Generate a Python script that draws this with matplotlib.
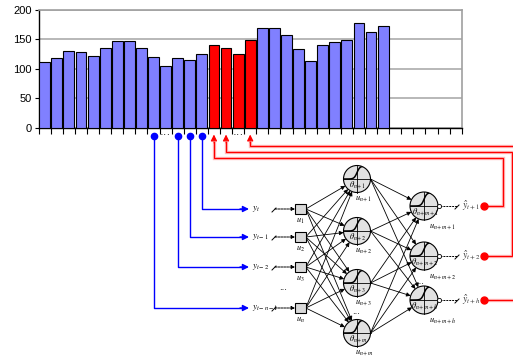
import numpy as np
import matplotlib
matplotlib.use("Agg")
import matplotlib.pyplot as plt
from matplotlib.patches import Circle, Rectangle, FancyArrowPatch

plt.rcParams['font.family'] = ['Liberation Sans', 'DejaVu Sans']
plt.rcParams['mathtext.fontset'] = 'stix'

# Serie de tiempo (barras)
valores = [112, 118, 131, 129, 121, 135, 148, 148, 136, 120, 104, 118, 115, 126,
           141, 135, 126, 149,
           170, 170, 158, 133, 113, 140, 145, 149, 178, 163, 172]
n_huecos = 35
idx_entrada = [13, 12, 11, 9]          # y_t, y_t-1, y_t-2, y_t-n-1
idx_objetivo = [14, 15, 17]            # y^_t+1, y^_t+2, y^_t+h
idx_puntos_azul = 10
idx_puntos_rojo = 16
yticks = [0, 50, 100, 150, 200]

etiq_y = [r'$y_t$', r'$y_{t-1}$', r'$y_{t-2}$', r'$y_{t-n-1}$']
etiq_u = [r'$u_1$', r'$u_2$', r'$u_3$', r'$u_n$']
theta_oc = [r'$\theta_{n+1}$', r'$\theta_{n+2}$', r'$\theta_{n+3}$', r'$\theta_{n+m}$']
etiq_oc = [r'$u_{n+1}$', r'$u_{n+2}$', r'$u_{n+3}$', r'$u_{n+m}$']
theta_sal = [r'$\theta_{n+m+1}$', r'$\theta_{n+m+2}$', r'$\theta_{n+m+h}$']
etiq_sal = [r'$u_{n+m+1}$', r'$u_{n+m+2}$', r'$u_{n+m+h}$']
etiq_yhat = [r'$\hat{y}_{t+1}$', r'$\hat{y}_{t+2}$', r'$\hat{y}_{t+h}$']

# Layout (pixeles)
W, H = 513, 359
AZUL_BARRA = '#8080ff'
ROJO = '#ff0000'
AZUL = '#0000ff'
fila_in = [209, 237, 267, 308]
x_cuadro = 300.5
x_oc, fila_oc, r_oc = 357, [179, 231, 283, 333], 13.5
x_sal, fila_sal, r_sal = 424, [206, 256, 300], 14
y_rojo = [157.5, 151.5, 145.5]
x_giro = [502.5, 512, 525]

fig = plt.figure(figsize=(W / 100, H / 100), dpi=100)
ax = fig.add_axes([38.7 / W, 1 - 127.7 / H, 423 / W, 117.7 / H])

x = np.arange(len(valores)) + 0.5
colores = [ROJO if i in (14, 15, 16, 17) else AZUL_BARRA for i in range(len(valores))]
ax.bar(x, valores, width=0.9, color=colores, edgecolor='black', linewidth=0.8, zorder=3)
ax.set_xlim(0, n_huecos)
ax.set_ylim(0, 200)
ax.set_yticks(yticks)
ax.set_xticks(np.arange(n_huecos + 1))
ax.set_xticklabels([])
ax.tick_params(axis='x', direction='out', length=4, width=0.8)
ax.tick_params(axis='y', direction='out', length=3, width=0.8, labelsize=8, pad=2)
ax.yaxis.grid(True, color='#b8b8b8', linewidth=1.4, zorder=0)
ax.set_axisbelow(True)
for s in ['top', 'right']:
    ax.spines[s].set_color('#a0a0a0')
    ax.spines[s].set_linewidth(1.2)
for s in ['left', 'bottom']:
    ax.spines[s].set_linewidth(1.0)

# Capa del diagrama
ov = fig.add_axes([0, 0, 1, 1])
ov.set_xlim(0, W)
ov.set_ylim(H, 0)
ov.axis('off')


def a_pix(xd):
    p = ax.transData.transform((xd, 0))
    return ov.transData.inverted().transform(p)[0]


def flecha(p0, p1, color='black', lw=0.6, ms=6, ls='-'):
    ov.add_patch(FancyArrowPatch(p0, p1, arrowstyle='-|>', mutation_scale=ms,
                                 color=color, lw=lw, linestyle=ls,
                                 shrinkA=0, shrinkB=0))


def neurona(cx, cy, r, theta, lab, dx_lab):
    c = Circle((cx, cy), r, facecolor='#e2e2e2', edgecolor='black', lw=0.8, zorder=4)
    ov.add_patch(c)
    ov.plot([cx - r, cx + r], [cy, cy], color='black', lw=0.6, zorder=5)
    ov.plot([cx, cx], [cy - r, cy + r], color='black', lw=0.6, zorder=5)
    t = np.linspace(-r, r, 60)
    sig = cy - 0.95 * r / (1 + np.exp(-t * 0.7))
    ln, = ov.plot(cx + t, sig, color='black', lw=1.1, zorder=5)
    ln.set_clip_path(c)
    ov.text(cx + 1, cy + 6, theta, fontsize=6, ha='center', va='center', zorder=6)
    ov.text(cx + dx_lab, cy + r + 6, lab, fontsize=6, ha='center', va='center')


# Entradas: puntos azules y rutas
y_marca = 136
for i, fy, lab in zip(idx_entrada, fila_in, etiq_y):
    xb = a_pix(i + 0.5)
    ov.plot([xb, xb, 244], [y_marca, fy, fy], color=AZUL, lw=1.0)
    flecha((240, fy), (249, fy), color=AZUL, lw=1.0, ms=9)
    ov.plot(xb, y_marca, 'o', color=AZUL, ms=4.5)
    ov.text(252, fy, lab, fontsize=6.5, ha='left', va='center')
ov.text(a_pix(idx_puntos_azul + 0.5), y_marca - 1, '···', fontsize=8, ha='center', va='center')

# Cuadros de entrada
for fy, lab in zip(fila_in, etiq_u):
    ov.plot([272, 276], [fy + 3, fy - 1], color='black', lw=0.7)
    flecha((275, fy), (295, fy), ls=(0, (2, 1)), lw=0.7, ms=5)
    ov.add_patch(Rectangle((x_cuadro - 5.3, fy - 5.3), 10.6, 10.6, facecolor='#d9d9d9',
                           edgecolor='black', lw=0.8, zorder=4))
    ov.text(x_cuadro, fy + 12, lab, fontsize=6, ha='center', va='center')
ov.text(283, 287, '...', fontsize=7, ha='center', va='center')

# Conexiones entrada -> oculta
for fy in fila_in:
    for hy in fila_oc:
        p0 = np.array([x_cuadro + 5.3, fy])
        c = np.array([x_oc, hy])
        d = (c - p0) / np.linalg.norm(c - p0)
        flecha(tuple(p0), tuple(c - d * r_oc), lw=0.6, ms=6)

# Conexiones oculta -> salida
for hy in fila_oc:
    for sy in fila_sal:
        p0 = np.array([x_oc + r_oc, hy])
        c = np.array([x_sal, sy])
        d = (c - p0) / np.linalg.norm(c - p0)
        flecha(tuple(p0), tuple(c - d * r_sal), lw=0.6, ms=6)

for hy, th, lab in zip(fila_oc, theta_oc, etiq_oc):
    neurona(x_oc, hy, r_oc, th, lab, 7)
ov.text(356, 311, '...', fontsize=7, ha='center', va='center')

for sy, th, lab in zip(fila_sal, theta_sal, etiq_sal):
    neurona(x_sal, sy, r_sal, th, lab, 19)
ov.text(420, 281, '...', fontsize=7, ha='center', va='center')

# Salidas y rutas rojas de vuelta a la serie
for k, (i, sy, lab) in enumerate(zip(idx_objetivo, fila_sal, etiq_yhat)):
    ov.plot(x_sal + r_sal + 1, sy, 'o', ms=3, mfc='white', mec='black', mew=0.6, zorder=6)
    ov.plot([x_sal + r_sal + 2, 457], [sy, sy], color='black', lw=0.7, ls=(0, (2, 1)))
    ov.plot([455, 459], [sy + 3, sy - 1], color='black', lw=0.7)
    ov.text(462, sy, lab, fontsize=7, ha='left', va='center', color='#333333')
    xr = a_pix(i + 0.5)
    yr = y_rojo[k]
    ruta_x = [484, x_giro[k], x_giro[k], xr, xr]
    ruta_y = [sy, sy, yr, yr, 142]
    ov.plot(ruta_x, ruta_y, color='#ff9090', lw=2.4, alpha=0.6, solid_joinstyle='miter')
    ov.plot(ruta_x, ruta_y, color=ROJO, lw=0.9, solid_joinstyle='miter')
    flecha((xr, 143), (xr, 134.5), color=ROJO, lw=0.9, ms=9)
    ov.plot(484, sy, 'o', color=ROJO, ms=5)
ov.text(a_pix(idx_puntos_rojo + 0.5), y_marca - 1, '···', fontsize=8, ha='center', va='center')

fig.savefig('out.png', dpi=100)
